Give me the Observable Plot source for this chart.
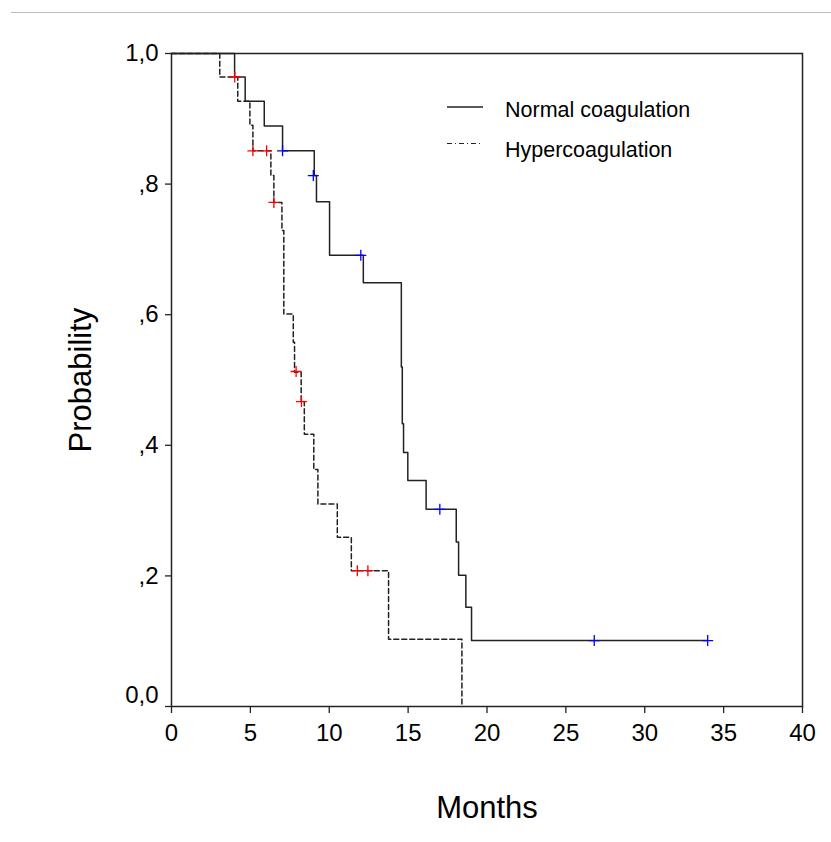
<!DOCTYPE html>
<html>
<head>
<meta charset="utf-8">
<script src="https://cdn.jsdelivr.net/npm/d3@7"></script>
<script src="https://cdn.jsdelivr.net/npm/@observablehq/plot@0.6"></script>
<style>
  html, body { margin: 0; padding: 0; background: #fff; }
  #wrap { position: relative; width: 831px; height: 842px; }
  #topline { position: absolute; left: 11px; top: 12px; width: 820px; height: 1px; background: #bdbdbd; }
</style>
</head>
<body>
<div id="wrap"><div id="topline"></div></div>
<script>
// ---- data ----
const normalTimes = [0, 4.0, 4.67, 5.88, 7.04, 9.05, 9.19, 10.02, 12.16, 14.57, 14.63, 14.71, 14.98, 16.14, 18.05, 18.2, 18.66, 19.02, 34.0];
const normalSurv  = [1.0, 0.964, 0.927, 0.889, 0.851, 0.813, 0.773, 0.691, 0.649, 0.520, 0.433, 0.389, 0.346, 0.302, 0.252, 0.201, 0.152, 0.101, 0.101];
const normalCensTimes = [7.04, 8.99, 12.0, 17.01, 26.8, 33.99];
const normalCensSurv  = [0.851, 0.813, 0.691, 0.302, 0.101, 0.101];

const hyperTimes = [0, 3.06, 4.2, 4.97, 5.16, 6.30, 6.49, 7.0, 7.12, 7.72, 7.80, 8.22, 8.42, 9.02, 9.28, 10.51, 11.40, 13.76, 18.41];
const hyperSurv  = [1.0, 0.964, 0.927, 0.890, 0.851, 0.813, 0.772, 0.729, 0.601, 0.558, 0.512, 0.467, 0.417, 0.363, 0.310, 0.259, 0.208, 0.103, 0];
const hyperCensTimes = [4.01, 5.16, 6.03, 6.49, 7.9, 8.24, 11.78, 12.45];
const hyperCensSurv  = [0.964, 0.851, 0.851, 0.772, 0.513, 0.467, 0.208, 0.208];

const xTicks = [0, 5, 10, 15, 20, 25, 30, 35, 40];
const yTicks = [0, 0.2, 0.4, 0.6, 0.8, 1.0];
const yTickLabels = ["0,0", ",2", ",4", ",6", ",8", "1,0"];
const seriesNames = ["Normal coagulation", "Hypercoagulation"];
const xTitle = "Months";
const yTitle = "Probability";

// ---- tables ----
const toRows = (ts, ss) => ts.map((t, i) => ({t, s: ss[i]}));
const normal = toRows(normalTimes, normalSurv);
const hyper = toRows(hyperTimes, hyperSurv);
const normalCens = toRows(normalCensTimes, normalCensSurv);
const hyperCens = toRows(hyperCensTimes, hyperCensSurv);

const FONT = "'Liberation Sans', Arial, Helvetica, sans-serif";
const INK = "#222";

const plusSymbol = {
  draw(ctx, size) {
    const r = Math.sqrt(size / Math.PI);
    ctx.moveTo(-r, 0); ctx.lineTo(r, 0);
    ctx.moveTo(0, -r); ctx.lineTo(0, r);
  }
};

const yFmt = d => yTickLabels[yTicks.findIndex(v => Math.abs(v - d) < 1e-9)];

// legend drawn as a render function (decoration, not data)
function legend(index, scales, values, dims) {
  const g = d3.create("svg:g")
    .attr("font-family", FONT).attr("font-size", 21.5).attr("fill", "#000")
    .attr("text-anchor", "start");
  const rows = [
    {name: seriesNames[0], y: 107, dash: null, text: 116.5},
    {name: seriesNames[1], y: 143.5, dash: "5,3,1,3", text: 156.5}
  ];
  for (const r of rows) {
    const ln = g.append("line").attr("x1", 447).attr("x2", 483).attr("y1", r.y).attr("y2", r.y)
      .attr("stroke", INK).attr("stroke-width", r.dash ? 1 : 1.3);
    if (r.dash) ln.attr("stroke-dasharray", r.dash);
    g.append("text").attr("x", 505).attr("y", r.text).attr("text-anchor", "start").text(r.name);
  }
  return g.node();
}

const chart = Plot.plot({
  width: 831,
  height: 842,
  marginTop: 53,
  marginLeft: 171,
  marginRight: 29,
  marginBottom: 136,
  style: {fontFamily: FONT, color: "#000", background: "transparent", overflow: "visible"},
  x: {domain: [0, 40]},
  y: {domain: [0, 1]},
  marks: [
    Plot.frame({stroke: INK, strokeWidth: 1.5}),
    Plot.axisX({ticks: xTicks, tickSize: 7, tickPadding: 10, fontSize: 24, label: null, stroke: INK, strokeWidth: 1.3, fill: "#000"}),
    Plot.axisY({ticks: yTicks, tickSize: 6, tickPadding: 7, fontSize: 24, label: null, stroke: INK, strokeWidth: 1.3, fill: "#000",
                tickFormat: d => (d === 0 ? "" : yFmt(d))}),
    Plot.axisY({ticks: [0], tickSize: 0, tickPadding: 13, fontSize: 24, label: null, fill: "#000", dy: -11, tickFormat: yFmt}),
    Plot.line(normal, {x: "t", y: "s", curve: "step-after", stroke: INK, strokeWidth: 1.5}),
    Plot.line(hyper, {x: "t", y: "s", curve: "step-after", stroke: INK, strokeWidth: 1.5, strokeDasharray: "5,3"}),
    Plot.dot(normalCens, {x: "t", y: "s", symbol: plusSymbol, r: 5.5, stroke: "#0000ff", fill: "none", strokeWidth: 1.3}),
    Plot.dot(hyperCens, {x: "t", y: "s", symbol: plusSymbol, r: 5.5, stroke: "#ff0000", fill: "none", strokeWidth: 1.3}),
    Plot.text([yTitle], {frameAnchor: "left", rotate: -90, dx: -81, lineAnchor: "bottom", textAnchor: "middle", fontSize: 31, fill: "#000"}),
    Plot.text([xTitle], {frameAnchor: "bottom", dy: 111, lineAnchor: "bottom", textAnchor: "middle", fontSize: 31, fill: "#000"}),
    legend
  ]
});
chart.style.position = "absolute";
chart.style.left = "0px";
chart.style.top = "0px";
document.getElementById("wrap").appendChild(chart);
</script>
</body>
</html>
